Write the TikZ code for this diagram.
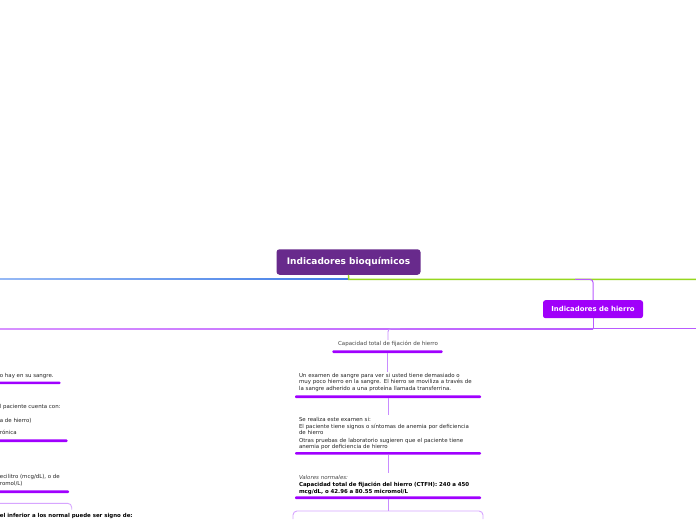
\documentclass[tikz,border=0pt]{standalone}
\usepackage{fontspec}
\setmainfont{DejaVu Sans}
\definecolor{rootc}{RGB}{104,42,140}
\definecolor{hierc}{RGB}{160,0,250}
\definecolor{barc}{RGB}{160,0,255}
\definecolor{vlc}{RGB}{200,140,255}
\definecolor{bracec}{RGB}{215,165,255}
\definecolor{txt}{RGB}{35,35,35}
\definecolor{capt}{RGB}{70,70,70}
\definecolor{greenl}{RGB}{150,215,30}
\definecolor{bluel}{RGB}{65,125,230}
\definecolor{bluelight}{RGB}{150,185,245}
\definecolor{violl}{RGB}{215,145,255}
\definecolor{viold}{RGB}{185,90,255}
\begin{document}
\begin{tikzpicture}[x=1pt,y=-1pt,
  rootbox/.style={fill=rootc, rounded corners=3pt, minimum width=144pt, minimum height=25.5pt, text=white, font=\fontsize{9}{10}\selectfont\bfseries, inner sep=0},
  hierbox/.style={fill=hierc, rounded corners=2.5pt, minimum width=100pt, minimum height=18pt, text=white, font=\fontsize{6.9}{8}\selectfont\bfseries, inner sep=0},
  ubar/.style={fill=barc, minimum height=2.6pt, inner sep=0, rounded corners=1pt},
  body/.style={text width=180pt, align=left, inner xsep=0, inner ysep=1.5pt, font=\fontsize{5.45}{6.3}\selectfont, text=txt, anchor=north},
  frag/.style={inner sep=0, font=\fontsize{5.45}{6.3}\selectfont, text=txt, anchor=base west},
  conn/.style={draw=vlc, line width=0.9pt},
  bracel/.style={draw=bracec, line width=0.9pt, rounded corners=4pt}]
\useasboundingbox (0,0) rectangle (696,520);
\clip (0,0) rectangle (696,520);
\fill[white] (0,0) rectangle (696,520);

% root and main lines
\node[rootbox] (root) at (348.5,262) {Indicadores bioquímicos};
\coordinate (stem) at (348.7,279.4);
\coordinate (gend) at (700,279.4);
\shade[left color=bluelight, right color=bluel] (0,278) rectangle (348.7,279.4);
\draw[greenl, line width=1.4pt] (root.south) -- (stem) -- (gend);

% Indicadores de hierro
\node[hierbox] (hier) at (593,309.2) {Indicadores de hierro};
\coordinate (hb0) at (575,279.4);
\draw[viold, line width=1pt, rounded corners=3pt] (hb0) -- (593,279.4) -- (hier.north);
\coordinate (hbar) at (593,328.7);
\draw[viold, line width=1pt] (hier.south) -- (hbar);
\shade[left color=violl, right color=viold] (0,328.1) rectangle (593,329.3);
\draw[viold, line width=1.1pt] (hbar) -- (700,328.7);

% centre column
\node[inner sep=1.5pt, font=\fontsize{5.5}{6}\selectfont, text=capt] (cap) at (388,344.3) {Capacidad total de fijación de hierro};
\coordinate (cb0) at (400,328.7);
\draw[conn, rounded corners=3pt] (cb0) -- (388,328.7) -- (cap.north);
\node[ubar, minimum width=110.4pt] (capbar) at (387.5,351.7) {};

\node[body] (ex) at (389,371.8) {Un examen de sangre para ver si usted tiene demasiado o\\muy poco hierro en la sangre. El hierro se moviliza a través de\\la sangre adherido a una proteína llamada transferrina.};
\node[ubar, minimum width=186pt] (exbar) at (388,396.7) {};
\draw[conn] (capbar.south) -- (ex.north -| capbar.south);

\node[body] (real) at (389,415.4) {Se realiza este examen si:\\[1pt]El paciente tiene signos o síntomas de anemia por deficiencia\\de hierro\\[1pt]Otras pruebas de laboratorio sugieren que el paciente tiene\\anemia por deficiencia de hierro};
\node[ubar, minimum width=186pt] (realbar) at (388,453.3) {};
\draw[conn] (exbar.south) -- (real.north -| exbar.south);

\node[body] (val) at (389,473.2) {\textcolor{capt}{\itshape Valores normales:}\\[1.4pt]\textbf{\color{black}Capacidad total de fijación del hierro (CTFH): 240 a 450}\\\textbf{\color{black}mcg/dL, o 42.96 a 80.55 micromol/L}};
\node[ubar, minimum width=186pt] (valbar) at (388,497.7) {};
\draw[conn] (realbar.south) -- (val.north -| realbar.south);

\coordinate (bmid) at (388,511);
\coordinate (bl) at (293,519);
\coordinate (br) at (483,519);
\draw[conn] (valbar.south) -- (bmid);
\draw[bracel] (bl) -- (293,511) -- (483,511) -- (br);

% left column (cut by the page edge)
\node[frag] (l1) at (-0.3,377.3) {o hay en su sangre.};
\node[ubar, minimum width=80pt, anchor=east] (lbar1) at (60.7,382.9) {};
\node[frag] (l2) at (-0.3,408.9) {l paciente cuenta con:};
\node[frag] (l3) at (-0.3,422.2) {a de hierro)};
\node[frag] (l4) at (-0.3,434.8) {rónica};
\node[ubar, minimum width=80pt, anchor=east] (lbar2) at (67.7,440.7) {};
\node[frag] (l5) at (-0.3,478.8) {ecilitro (mcg/dL), o de};
\node[frag] (l6) at (-0.3,485.5) {romol/L)};
\node[ubar, minimum width=80pt, anchor=east] (lbar3) at (69.3,491.7) {};
\coordinate (lb0) at (-5,503.3);
\coordinate (lb1) at (71.7,509.5);
\draw[bracel] (lb0) -- (71.7,503.3) -- (lb1);
\node[frag, font=\fontsize{5.45}{6.3}\selectfont\bfseries, text=black] (l7) at (-0.3,517.2) {el inferior a los normal puede ser signo de:};
\end{tikzpicture}
\end{document}
